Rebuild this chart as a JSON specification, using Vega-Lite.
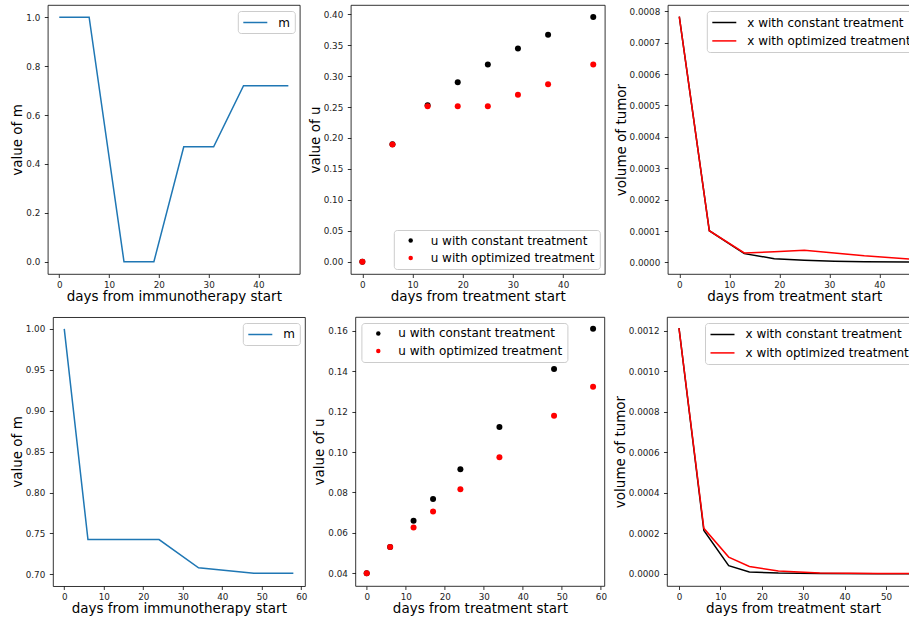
{
  "$schema": "https://vega.github.io/schema/vega-lite/v6.json",
  "background": "white",
  "padding": {"left": 9.8, "top": 4, "right": 0, "bottom": 0},
  "datasets": {
    "m1": [
      {"day": 0, "m": 1.0, "s": "m"},
      {"day": 6, "m": 1.0, "s": "m"},
      {"day": 13, "m": 0.0, "s": "m"},
      {"day": 19, "m": 0.0, "s": "m"},
      {"day": 25, "m": 0.47, "s": "m"},
      {"day": 31, "m": 0.47, "s": "m"},
      {"day": 37, "m": 0.72, "s": "m"},
      {"day": 46, "m": 0.72, "s": "m"}
    ],
    "u1": [
      {"day": 0, "u": 0.0, "s": "u with constant treatment"},
      {"day": 6, "u": 0.19, "s": "u with constant treatment"},
      {"day": 13, "u": 0.253, "s": "u with constant treatment"},
      {"day": 19, "u": 0.29, "s": "u with constant treatment"},
      {"day": 25, "u": 0.319, "s": "u with constant treatment"},
      {"day": 31, "u": 0.3445, "s": "u with constant treatment"},
      {"day": 37, "u": 0.367, "s": "u with constant treatment"},
      {"day": 46, "u": 0.3957, "s": "u with constant treatment"},
      {"day": 0, "u": 0.0, "s": "u with optimized treatment"},
      {"day": 6, "u": 0.1895, "s": "u with optimized treatment"},
      {"day": 13, "u": 0.2515, "s": "u with optimized treatment"},
      {"day": 19, "u": 0.2515, "s": "u with optimized treatment"},
      {"day": 25, "u": 0.2515, "s": "u with optimized treatment"},
      {"day": 31, "u": 0.27, "s": "u with optimized treatment"},
      {"day": 37, "u": 0.287, "s": "u with optimized treatment"},
      {"day": 46, "u": 0.319, "s": "u with optimized treatment"}
    ],
    "x1": [
      {"day": 0, "x": 0.000783, "s": "x with constant treatment"},
      {"day": 6, "x": 0.000101, "s": "x with constant treatment"},
      {"day": 13, "x": 0.000028, "s": "x with constant treatment"},
      {"day": 19, "x": 0.000012, "s": "x with constant treatment"},
      {"day": 25, "x": 0.000007, "s": "x with constant treatment"},
      {"day": 31, "x": 0.000004, "s": "x with constant treatment"},
      {"day": 37, "x": 0.0000025, "s": "x with constant treatment"},
      {"day": 46, "x": 0.0000015, "s": "x with constant treatment"},
      {"day": 0, "x": 0.000783, "s": "x with optimized treatment"},
      {"day": 6, "x": 0.000101, "s": "x with optimized treatment"},
      {"day": 13, "x": 0.00003, "s": "x with optimized treatment"},
      {"day": 19, "x": 0.000034, "s": "x with optimized treatment"},
      {"day": 25, "x": 0.000039, "s": "x with optimized treatment"},
      {"day": 31, "x": 0.00003, "s": "x with optimized treatment"},
      {"day": 37, "x": 0.000021, "s": "x with optimized treatment"},
      {"day": 46, "x": 0.000011, "s": "x with optimized treatment"}
    ],
    "m2": [
      {"day": 0, "m": 1.0, "s": "m"},
      {"day": 6, "m": 0.7425, "s": "m"},
      {"day": 12, "m": 0.7425, "s": "m"},
      {"day": 17, "m": 0.7425, "s": "m"},
      {"day": 24, "m": 0.7425, "s": "m"},
      {"day": 34, "m": 0.708, "s": "m"},
      {"day": 48, "m": 0.7012, "s": "m"},
      {"day": 58, "m": 0.7012, "s": "m"}
    ],
    "u2": [
      {"day": 0, "u": 0.04, "s": "u with constant treatment"},
      {"day": 6, "u": 0.053, "s": "u with constant treatment"},
      {"day": 12, "u": 0.066, "s": "u with constant treatment"},
      {"day": 17, "u": 0.0767, "s": "u with constant treatment"},
      {"day": 24, "u": 0.0915, "s": "u with constant treatment"},
      {"day": 34, "u": 0.1124, "s": "u with constant treatment"},
      {"day": 48, "u": 0.1411, "s": "u with constant treatment"},
      {"day": 58, "u": 0.161, "s": "u with constant treatment"},
      {"day": 0, "u": 0.04, "s": "u with optimized treatment"},
      {"day": 6, "u": 0.053, "s": "u with optimized treatment"},
      {"day": 12, "u": 0.0626, "s": "u with optimized treatment"},
      {"day": 17, "u": 0.0706, "s": "u with optimized treatment"},
      {"day": 24, "u": 0.0816, "s": "u with optimized treatment"},
      {"day": 34, "u": 0.0974, "s": "u with optimized treatment"},
      {"day": 48, "u": 0.118, "s": "u with optimized treatment"},
      {"day": 58, "u": 0.1323, "s": "u with optimized treatment"}
    ],
    "x2": [
      {"day": 0, "x": 0.001213, "s": "x with constant treatment"},
      {"day": 6, "x": 0.000214, "s": "x with constant treatment"},
      {"day": 12, "x": 0.00004, "s": "x with constant treatment"},
      {"day": 17, "x": 0.000009, "s": "x with constant treatment"},
      {"day": 24, "x": 0.000003, "s": "x with constant treatment"},
      {"day": 34, "x": 0.000001, "s": "x with constant treatment"},
      {"day": 48, "x": 0.0000003, "s": "x with constant treatment"},
      {"day": 58, "x": 0.0000001, "s": "x with constant treatment"},
      {"day": 0, "x": 0.001213, "s": "x with optimized treatment"},
      {"day": 6, "x": 0.000224, "s": "x with optimized treatment"},
      {"day": 12, "x": 0.000082, "s": "x with optimized treatment"},
      {"day": 17, "x": 0.000036, "s": "x with optimized treatment"},
      {"day": 24, "x": 0.000013, "s": "x with optimized treatment"},
      {"day": 34, "x": 0.000004, "s": "x with optimized treatment"},
      {"day": 48, "x": 0.000001, "s": "x with optimized treatment"},
      {"day": 58, "x": 0.0000004, "s": "x with optimized treatment"}
    ]
  },
  "config": {
    "font": "DejaVu Sans",
    "view": {"stroke": "#000000", "strokeWidth": 0.8},
    "axis": {
      "grid": false, "domain": false,
      "domainColor": "#000000", "domainWidth": 0.8,
      "tickColor": "#000000", "tickWidth": 0.8, "tickSize": 3.5,
      "labelFont": "DejaVu Sans", "labelFontSize": 8.8, "labelColor": "#222222",
      "labelFlush": false, "labelOverlap": false, "labelBound": false,
      "titleFont": "DejaVu Sans", "titleFontSize": 13.5, "titleFontWeight": "normal", "titleColor": "#000000"
    },
    "axisX": {"labelPadding": 3, "titlePadding": 0.5},
    "axisY": {"labelPadding": 4.5, "titlePadding": 1},
    "legend": {
      "title": null, "fillColor": "white", "strokeColor": "#cccccc", "cornerRadius": 3,
      "padding": 4.5, "offset": 5.5, "labelFont": "DejaVu Sans", "labelFontSize": 12, "labelColor": "#000000",
      "labelLimit": 400, "rowPadding": 5.4, "symbolStrokeWidth": 1.5
    }
  },
  "columns": 1,
  "spacing": 12,
  "resolve": {"scale": {"color": "independent"}, "legend": {"color": "independent"}},
  "concat": [
    {
      "spacing": 7,
      "resolve": {"scale": {"color": "independent"}, "legend": {"color": "independent"}},
      "hconcat": [
        {
          "width": 252, "height": 269,
          "data": {"name": "m1"},
          "mark": {"type": "line", "strokeWidth": 1.5},
          "encoding": {
            "x": {"field": "day", "type": "quantitative", "scale": {"domain": [-2.3, 48.3], "nice": false, "zero": false}, "axis": {"title": "days from immunotherapy start", "values": [0, 10, 20, 30, 40]}},
            "y": {"field": "m", "type": "quantitative", "scale": {"domain": [-0.05, 1.05], "nice": false, "zero": false}, "axis": {"title": "value of m", "values": [0, 0.2, 0.4, 0.6, 0.8, 1.0], "format": ".1f"}},
            "color": {"field": "s", "type": "nominal", "scale": {"domain": ["m"], "range": ["#1f77b4"]}, "legend": {"orient": "top-right", "symbolType": "M-1,0H3", "symbolSize": 144, "labelOffset": 22}}
          }
        },
        {
          "width": 254, "height": 269,
          "data": {"name": "u1"},
          "mark": {"type": "point", "filled": true, "opacity": 1, "size": 36},
          "encoding": {
            "x": {"field": "day", "type": "quantitative", "scale": {"domain": [-2.3, 48.3], "nice": false, "zero": false}, "axis": {"title": "days from treatment start", "values": [0, 10, 20, 30, 40]}},
            "y": {"field": "u", "type": "quantitative", "scale": {"domain": [-0.0199, 0.415], "nice": false, "zero": false}, "axis": {"title": "value of u", "values": [0, 0.05, 0.1, 0.15, 0.2, 0.25, 0.3, 0.35, 0.4], "format": ".2f"}},
            "color": {"field": "s", "type": "nominal", "scale": {"domain": ["u with constant treatment", "u with optimized treatment"], "range": ["#000000", "#ff0000"]}, "legend": {"orient": "bottom-right", "symbolType": "circle", "symbolSize": 20, "symbolOffset": 6.4, "labelOffset": 14}}
          }
        },
        {
          "width": 253, "height": 269,
          "data": {"name": "x1"},
          "mark": {"type": "line", "strokeWidth": 1.5},
          "encoding": {
            "x": {"field": "day", "type": "quantitative", "scale": {"domain": [-2.3, 48.3], "nice": false, "zero": false}, "axis": {"title": "days from treatment start", "values": [0, 10, 20, 30, 40]}},
            "y": {"field": "x", "type": "quantitative", "scale": {"domain": [-0.0000369, 0.00082], "nice": false, "zero": false}, "axis": {"title": "volume of tumor", "values": [0, 0.0001, 0.0002, 0.0003, 0.0004, 0.0005, 0.0006, 0.0007, 0.0008], "format": ".4f"}},
            "color": {"field": "s", "type": "nominal", "scale": {"domain": ["x with constant treatment", "x with optimized treatment"], "range": ["#000000", "#ff0000"]}, "legend": {"orient": "top-right", "symbolType": "M-1,0H3", "symbolSize": 144, "labelOffset": 22}}
          }
        }
      ]
    },
    {
      "spacing": 4.6,
      "resolve": {"scale": {"color": "independent"}, "legend": {"color": "independent"}},
      "hconcat": [
        {
          "width": 257, "height": 269,
          "view": {"stroke": null},
          "data": {"name": "m2"},
          "resolve": {"axis": {"x": "independent", "y": "independent"}},
          "layer": [
            {
              "mark": {"type": "line", "strokeWidth": 1.5},
              "encoding": {
                "x": {"field": "day", "type": "quantitative", "scale": {"domain": [-2.9, 60.9], "range": [5, 257], "nice": false, "zero": false}, "axis": {"title": "days from immunotherapy start", "values": [0, 10, 20, 30, 40, 50, 60], "domain": true}},
                "y": {"field": "m", "type": "quantitative", "scale": {"domain": [0.6857, 1.0146], "nice": false, "zero": false}, "axis": {"title": "value of m", "values": [0.7, 0.75, 0.8, 0.85, 0.9, 0.95, 1.0], "format": ".2f", "offset": -5, "domain": true}},
                "color": {"field": "s", "type": "nominal", "scale": {"domain": ["m"], "range": ["#1f77b4"]}, "legend": {"orient": "top-right", "symbolType": "M-1,0H3", "symbolSize": 144, "labelOffset": 22}}
              }
            },
            {
              "mark": {"type": "point", "opacity": 0},
              "encoding": {
                "x": {"field": "day", "type": "quantitative", "scale": {"domain": [-2.9, 60.9], "range": [5, 257], "nice": false, "zero": false}, "axis": {"orient": "top", "title": null, "labels": false, "ticks": false, "domain": true}},
                "y": {"field": "m", "type": "quantitative", "scale": {"domain": [0.6857, 1.0146], "nice": false, "zero": false}, "axis": {"orient": "right", "title": null, "labels": false, "ticks": false, "domain": true}}
              }
            }
          ]
        },
        {
          "width": 249, "height": 269,
          "data": {"name": "u2"},
          "mark": {"type": "point", "filled": true, "opacity": 1, "size": 36},
          "encoding": {
            "x": {"field": "day", "type": "quantitative", "scale": {"domain": [-2.9, 60.9], "nice": false, "zero": false}, "axis": {"title": "days from treatment start", "values": [0, 10, 20, 30, 40, 50, 60]}},
            "y": {"field": "u", "type": "quantitative", "scale": {"domain": [0.0337, 0.1668], "nice": false, "zero": false}, "axis": {"title": "value of u", "values": [0.04, 0.06, 0.08, 0.1, 0.12, 0.14, 0.16], "format": ".2f"}},
            "color": {"field": "s", "type": "nominal", "scale": {"domain": ["u with constant treatment", "u with optimized treatment"], "range": ["#000000", "#ff0000"]}, "legend": {"orient": "top-left", "symbolType": "circle", "symbolSize": 20, "symbolOffset": 6.4, "labelOffset": 14}}
          }
        },
        {
          "width": 252, "height": 269,
          "data": {"name": "x2"},
          "mark": {"type": "line", "strokeWidth": 1.5},
          "encoding": {
            "x": {"field": "day", "type": "quantitative", "scale": {"domain": [-2.9, 57.97], "nice": false, "zero": false}, "axis": {"title": "days from treatment start", "values": [0, 10, 20, 30, 40, 50]}},
            "y": {"field": "x", "type": "quantitative", "scale": {"domain": [-0.0000607, 0.001268], "nice": false, "zero": false}, "axis": {"title": "volume of tumor", "values": [0, 0.0002, 0.0004, 0.0006, 0.0008, 0.001, 0.0012], "format": ".4f"}},
            "color": {"field": "s", "type": "nominal", "scale": {"domain": ["x with constant treatment", "x with optimized treatment"], "range": ["#000000", "#ff0000"]}, "legend": {"orient": "top-right", "symbolType": "M-1,0H3", "symbolSize": 144, "labelOffset": 22}}
          }
        }
      ]
    }
  ]
}
